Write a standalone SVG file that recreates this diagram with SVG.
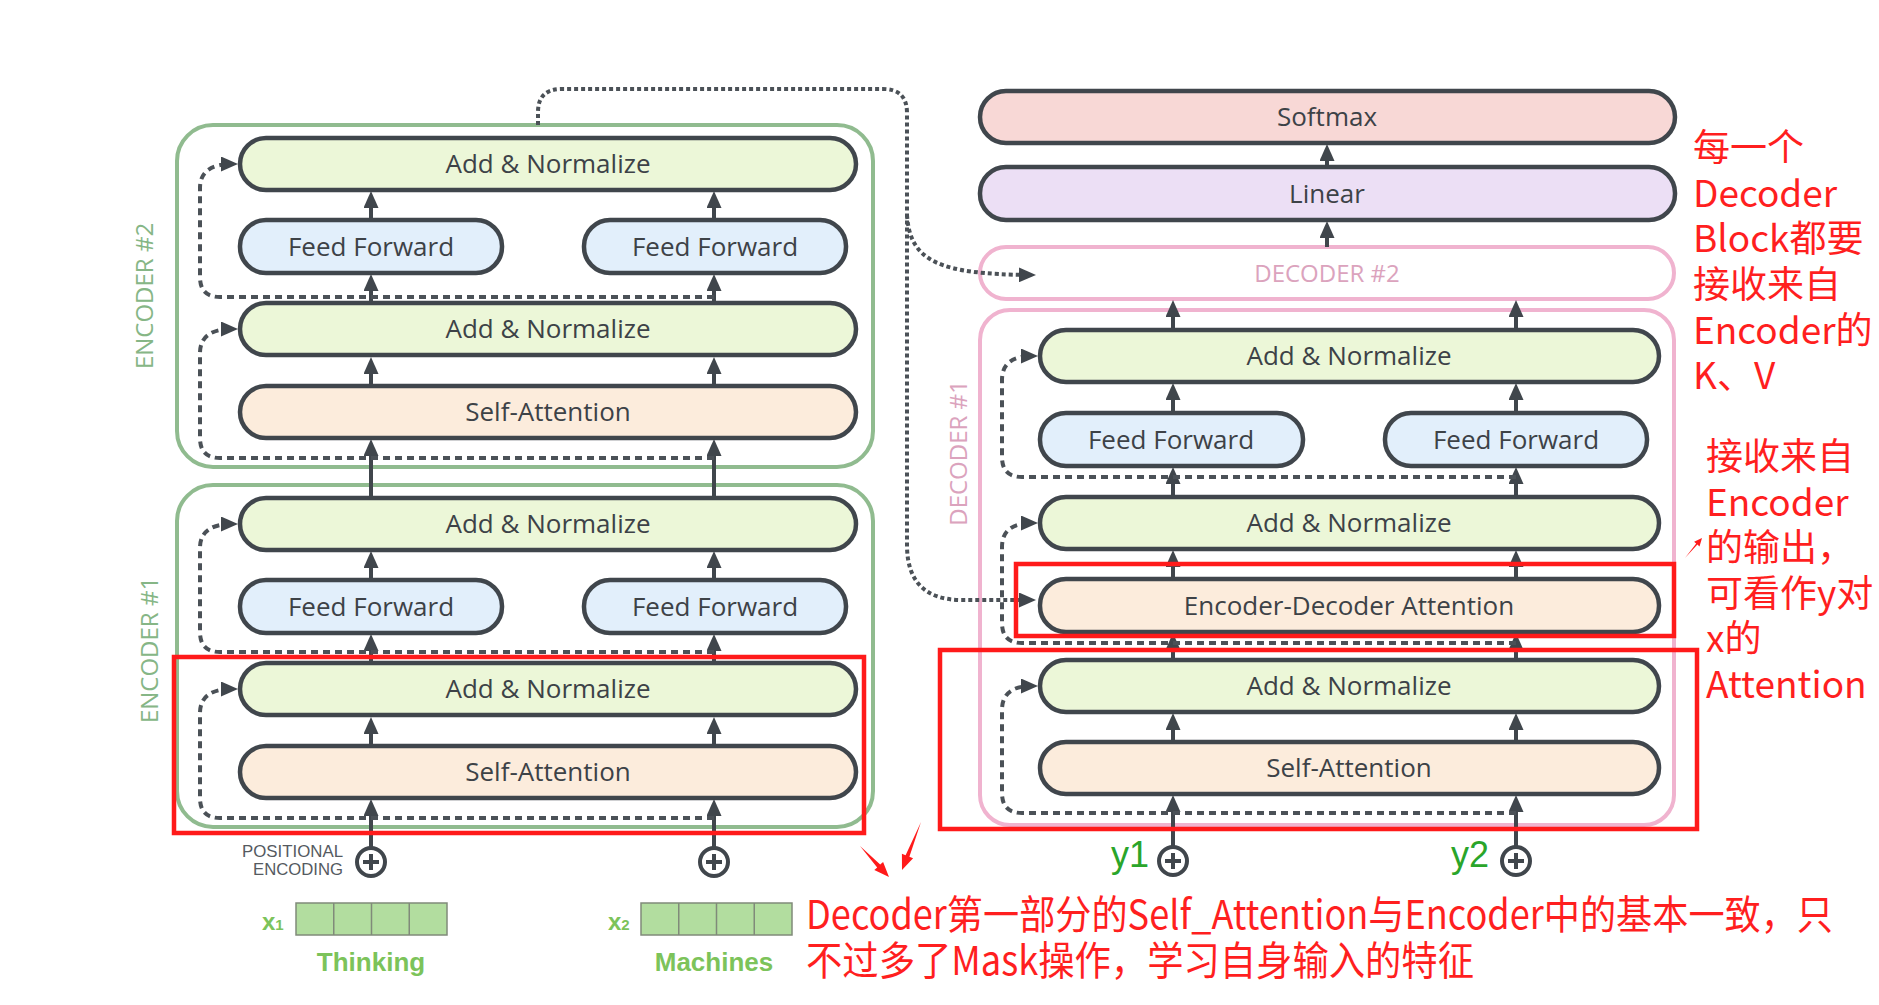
<svg xmlns="http://www.w3.org/2000/svg" width="1879" height="1005" viewBox="0 0 1879 1005">
<defs>
<style>
.pill{stroke:#40464c;stroke-width:4.5}
.an{fill:#ecf7d8}
.ff{fill:#e2effb}
.sa{fill:#fcecdc}
.sm{fill:#f8d8d6}
.li{fill:#ecdff5}
.t{font-family:"Open Sans","DejaVu Sans",sans-serif;font-size:26px;fill:#3d4247;text-anchor:middle}
.enc{fill:none;stroke:#90bb8f;stroke-width:4}
.dec{fill:none;stroke:#f0b3cf;stroke-width:4}
.lblE{font-family:"Open Sans","DejaVu Sans",sans-serif;font-size:24px;fill:#86b686;text-anchor:middle}
.lblD{font-family:"Open Sans","DejaVu Sans",sans-serif;font-size:24px;fill:#dba3bd;text-anchor:middle}
.arr{stroke:#40464c;stroke-width:4;fill:none;marker-end:url(#ah)}
.dash{stroke:#4b5157;stroke-width:4;fill:none;stroke-dasharray:7 5;marker-end:url(#ah)}
.dot{stroke:#4b5157;stroke-width:4;fill:none;stroke-dasharray:4 3;marker-end:url(#ah)}
.plus{fill:#fff;stroke:#40464c;stroke-width:4}
.redbox{fill:none;stroke:#ff1a1a;stroke-width:4.5}
.red{font-family:"Noto Sans CJK SC","Microsoft YaHei",sans-serif;font-size:37px;fill:#ff1f1f}
.redb{font-family:"Noto Sans CJK SC","Microsoft YaHei",sans-serif;font-size:40px;fill:#ff1f1f}
.grn{font-family:"Liberation Sans",Arial,sans-serif;font-weight:bold;fill:#7cc35a}
.pe{font-family:"Liberation Sans",Arial,sans-serif;font-size:17px;fill:#555a5f;text-anchor:end}
.vec{fill:#b2dd9f;stroke:#808a7a;stroke-width:1.5}
</style>
<marker id="ah" viewBox="0 0 17 15" refX="11" refY="7.5" markerWidth="17" markerHeight="15" markerUnits="userSpaceOnUse" orient="auto">
<path d="M0,0 L17,7.5 L0,15 z" fill="#40464c"/>
</marker>
</defs>
<rect width="1879" height="1005" fill="#fff"/>

<!-- container boxes -->
<g id="encoder2">
<rect class="enc" x="177" y="125" width="696" height="342" rx="36"/>
<text class="lblE" transform="translate(153,296) rotate(-90)">ENCODER #2</text>
</g>
<g id="encoder1">
<rect class="enc" x="177" y="485" width="696" height="342" rx="36"/>
<text class="lblE" transform="translate(158,650) rotate(-90)">ENCODER #1</text>
</g>
<g id="decoder1">
<rect class="dec" x="980" y="310" width="694" height="515" rx="30"/>
<text class="lblD" transform="translate(967,453) rotate(-90)">DECODER #1</text>
</g>

<!-- encoder 2 nodes -->
<g id="enc2-addnorm2"><rect class="pill an" x="240" y="138" width="616" height="52" rx="26"/><text class="t" x="548" y="173">Add &amp; Normalize</text></g>
<g id="enc2-ff1"><rect class="pill ff" x="240" y="220" width="262" height="53" rx="26"/><text class="t" x="371" y="256">Feed Forward</text></g>
<g id="enc2-ff2"><rect class="pill ff" x="584" y="220" width="262" height="53" rx="26"/><text class="t" x="715" y="256">Feed Forward</text></g>
<g id="enc2-addnorm1"><rect class="pill an" x="240" y="303" width="616" height="52" rx="26"/><text class="t" x="548" y="338">Add &amp; Normalize</text></g>
<g id="enc2-selfatt"><rect class="pill sa" x="240" y="386" width="616" height="52" rx="26"/><text class="t" x="548" y="421">Self-Attention</text></g>

<!-- encoder 1 nodes -->
<g id="enc1-addnorm2"><rect class="pill an" x="240" y="498" width="616" height="52" rx="26"/><text class="t" x="548" y="533">Add &amp; Normalize</text></g>
<g id="enc1-ff1"><rect class="pill ff" x="240" y="580" width="262" height="53" rx="26"/><text class="t" x="371" y="616">Feed Forward</text></g>
<g id="enc1-ff2"><rect class="pill ff" x="584" y="580" width="262" height="53" rx="26"/><text class="t" x="715" y="616">Feed Forward</text></g>
<g id="enc1-addnorm1"><rect class="pill an" x="240" y="663" width="616" height="52" rx="26"/><text class="t" x="548" y="698">Add &amp; Normalize</text></g>
<g id="enc1-selfatt"><rect class="pill sa" x="240" y="746" width="616" height="52" rx="26"/><text class="t" x="548" y="781">Self-Attention</text></g>

<!-- positional encoding -->
<g id="pos-enc1"><circle class="plus" cx="371" cy="862" r="14"/><path d="M371,854V870M363,862H379" stroke="#40464c" stroke-width="4"/></g>
<g id="pos-enc2"><circle class="plus" cx="714" cy="862" r="14"/><path d="M714,854V870M706,862H722" stroke="#40464c" stroke-width="4"/></g>
<g id="pos-label">
<text class="pe" x="343" y="857" textLength="101" lengthAdjust="spacingAndGlyphs">POSITIONAL</text>
<text class="pe" x="343" y="875" textLength="90" lengthAdjust="spacingAndGlyphs">ENCODING</text>
</g>

<!-- inputs -->
<g id="input-x1">
<rect class="vec" x="296" y="903" width="151" height="32"/>
<path d="M333.75,903V935M371.5,903V935M409.25,903V935" stroke="#808a7a" stroke-width="1.5"/>
<text class="grn" x="262" y="930" font-size="24">x<tspan font-size="15">1</tspan></text>
<text class="grn" x="371" y="971" font-size="26" text-anchor="middle">Thinking</text>
</g>
<g id="input-x2">
<rect class="vec" x="641" y="903" width="151" height="32"/>
<path d="M678.75,903V935M716.5,903V935M754.25,903V935" stroke="#808a7a" stroke-width="1.5"/>
<text class="grn" x="608" y="930" font-size="24">x<tspan font-size="15">2</tspan></text>
<text class="grn" x="714" y="971" font-size="26" text-anchor="middle">Machines</text>
</g>

<!-- decoder side nodes -->
<g id="softmax"><rect class="pill sm" x="980" y="91" width="695" height="52" rx="26"/><text class="t" x="1327" y="126">Softmax</text></g>
<g id="linear"><rect class="pill li" x="980" y="167" width="695" height="53" rx="26"/><text class="t" x="1327" y="203">Linear</text></g>
<g id="decoder2"><rect x="980" y="247" width="694" height="52" rx="26" fill="#fff" stroke="#f0b3cf" stroke-width="4"/><text class="lblD" x="1327" y="282">DECODER #2</text></g>
<g id="dec-addnorm3"><rect class="pill an" x="1040" y="330" width="619" height="52" rx="26"/><text class="t" x="1349" y="365">Add &amp; Normalize</text></g>
<g id="dec-ff1"><rect class="pill ff" x="1040" y="413" width="263" height="53" rx="26"/><text class="t" x="1171" y="449">Feed Forward</text></g>
<g id="dec-ff2"><rect class="pill ff" x="1385" y="413" width="262" height="53" rx="26"/><text class="t" x="1516" y="449">Feed Forward</text></g>
<g id="dec-addnorm2"><rect class="pill an" x="1040" y="497" width="619" height="52" rx="26"/><text class="t" x="1349" y="532">Add &amp; Normalize</text></g>
<g id="dec-encdecatt"><rect class="pill sa" x="1040" y="579" width="619" height="53" rx="26"/><text class="t" x="1349" y="615">Encoder-Decoder Attention</text></g>
<g id="dec-addnorm1"><rect class="pill an" x="1040" y="660" width="619" height="52" rx="26"/><text class="t" x="1349" y="695">Add &amp; Normalize</text></g>
<g id="dec-selfatt"><rect class="pill sa" x="1040" y="742" width="619" height="52" rx="26"/><text class="t" x="1349" y="777">Self-Attention</text></g>

<g id="pos-dec1"><circle class="plus" cx="1173" cy="861" r="14"/><path d="M1173,853V869M1165,861H1181" stroke="#40464c" stroke-width="4"/></g>
<g id="pos-dec2"><circle class="plus" cx="1516" cy="861" r="14"/><path d="M1516,853V869M1508,861H1524" stroke="#40464c" stroke-width="4"/></g>
<text x="1111" y="867" font-family="Liberation Sans, Arial, sans-serif" font-size="36" fill="#2aa52a">y1</text>
<text x="1451" y="867" font-family="Liberation Sans, Arial, sans-serif" font-size="36" fill="#2aa52a">y2</text>

<!-- connectors -->
<g id="connectors">
<!-- encoder vertical arrows -->
<path class="arr" d="M371,386V363"/><path class="arr" d="M714,386V363"/>
<path class="arr" d="M371,303V280"/><path class="arr" d="M714,303V280"/>
<path class="arr" d="M371,220V197"/><path class="arr" d="M714,220V197"/>
<path class="arr" d="M371,498V445"/><path class="arr" d="M714,498V445"/>
<path class="arr" d="M371,746V723"/><path class="arr" d="M714,746V723"/>
<path class="arr" d="M371,663V640"/><path class="arr" d="M714,663V640"/>
<path class="arr" d="M371,580V557"/><path class="arr" d="M714,580V557"/>
<path class="arr" d="M371,848V805"/><path class="arr" d="M714,848V805"/>
<!-- decoder vertical arrows -->
<path class="arr" d="M1173,847V801"/><path class="arr" d="M1516,847V801"/>
<path class="arr" d="M1173,742V719"/><path class="arr" d="M1516,742V719"/>
<path class="arr" d="M1173,660V639"/><path class="arr" d="M1516,660V639"/>
<path class="arr" d="M1173,579V556"/><path class="arr" d="M1516,579V556"/>
<path class="arr" d="M1173,497V473"/><path class="arr" d="M1516,497V473"/>
<path class="arr" d="M1173,413V389"/><path class="arr" d="M1516,413V389"/>
<path class="arr" d="M1173,330V306"/><path class="arr" d="M1516,330V306"/>
<path class="arr" d="M1327,167V150"/>
<path class="arr" d="M1327,247V227"/>
<!-- residual dashed -->
<path class="dash" d="M714,458H220Q200,458 200,438V353Q200,329 232,329"/>
<path class="dash" d="M714,297H220Q200,297 200,277V188Q200,164 232,164"/>
<path class="dash" d="M714,818H220Q200,818 200,798V713Q200,689 232,689"/>
<path class="dash" d="M714,652H220Q200,652 200,632V548Q200,524 232,524"/>
<path class="dash" d="M1516,813H1022Q1002,813 1002,793V710Q1002,686 1032,686"/>
<path class="dash" d="M1516,643H1022Q1002,643 1002,623V547Q1002,523 1032,523"/>
<path class="dash" d="M1516,477H1022Q1002,477 1002,457V380Q1002,356 1032,356"/>
<!-- dotted encoder output to decoders -->
<path class="dot" d="M538,125V112Q538,89 562,89H883Q907,89 907,113V545Q907,600 962,600H1030"/>
<path class="dot" d="M907,215C910,262 940,274 1030,275"/>
</g>

<!-- red annotations -->
<g id="annotations">
<rect class="redbox" x="174" y="657" width="690" height="176"/>
<rect class="redbox" x="1016" y="564" width="658" height="72"/>
<rect class="redbox" x="940" y="650" width="757" height="179"/>
<polygon fill="#ff1a1a" points="860,846 880.2,864.6 883.1,861.9 889,877 874.3,870.1 877.2,867.4"/>
<polygon fill="#ff1a1a" points="921,822 909.4,856.7 913.1,858.2 902,870 901.9,853.8 905.6,855.3"/>
<polygon fill="#ff1a1a" points="1685,558 1697.4,544.6 1699.5,546.4 1702,538 1694.1,541.8 1696.2,543.6"/>
<text class="red" x="1693" y="161">每一个</text>
<text class="red" x="1693" y="207">Decoder</text>
<text class="red" x="1693" y="252">Block都要</text>
<text class="red" x="1693" y="298">接收来自</text>
<text class="red" x="1693" y="344">Encoder的</text>
<text class="red" x="1693" y="389">K、V</text>
<text class="red" x="1706" y="470">接收来自</text>
<text class="red" x="1706" y="516">Encoder</text>
<text class="red" x="1706" y="561">的输出，</text>
<text class="red" x="1706" y="607">可看作y对</text>
<text class="red" x="1706" y="652">x的</text>
<text class="red" x="1706" y="698">Attention</text>
<text class="redb" x="806" y="929" textLength="1027" lengthAdjust="spacingAndGlyphs">Decoder第一部分的Self_Attention与Encoder中的基本一致，只</text>
<text class="redb" x="806" y="975" textLength="668" lengthAdjust="spacingAndGlyphs">不过多了Mask操作，学习自身输入的特征</text>
</g>
</svg>
